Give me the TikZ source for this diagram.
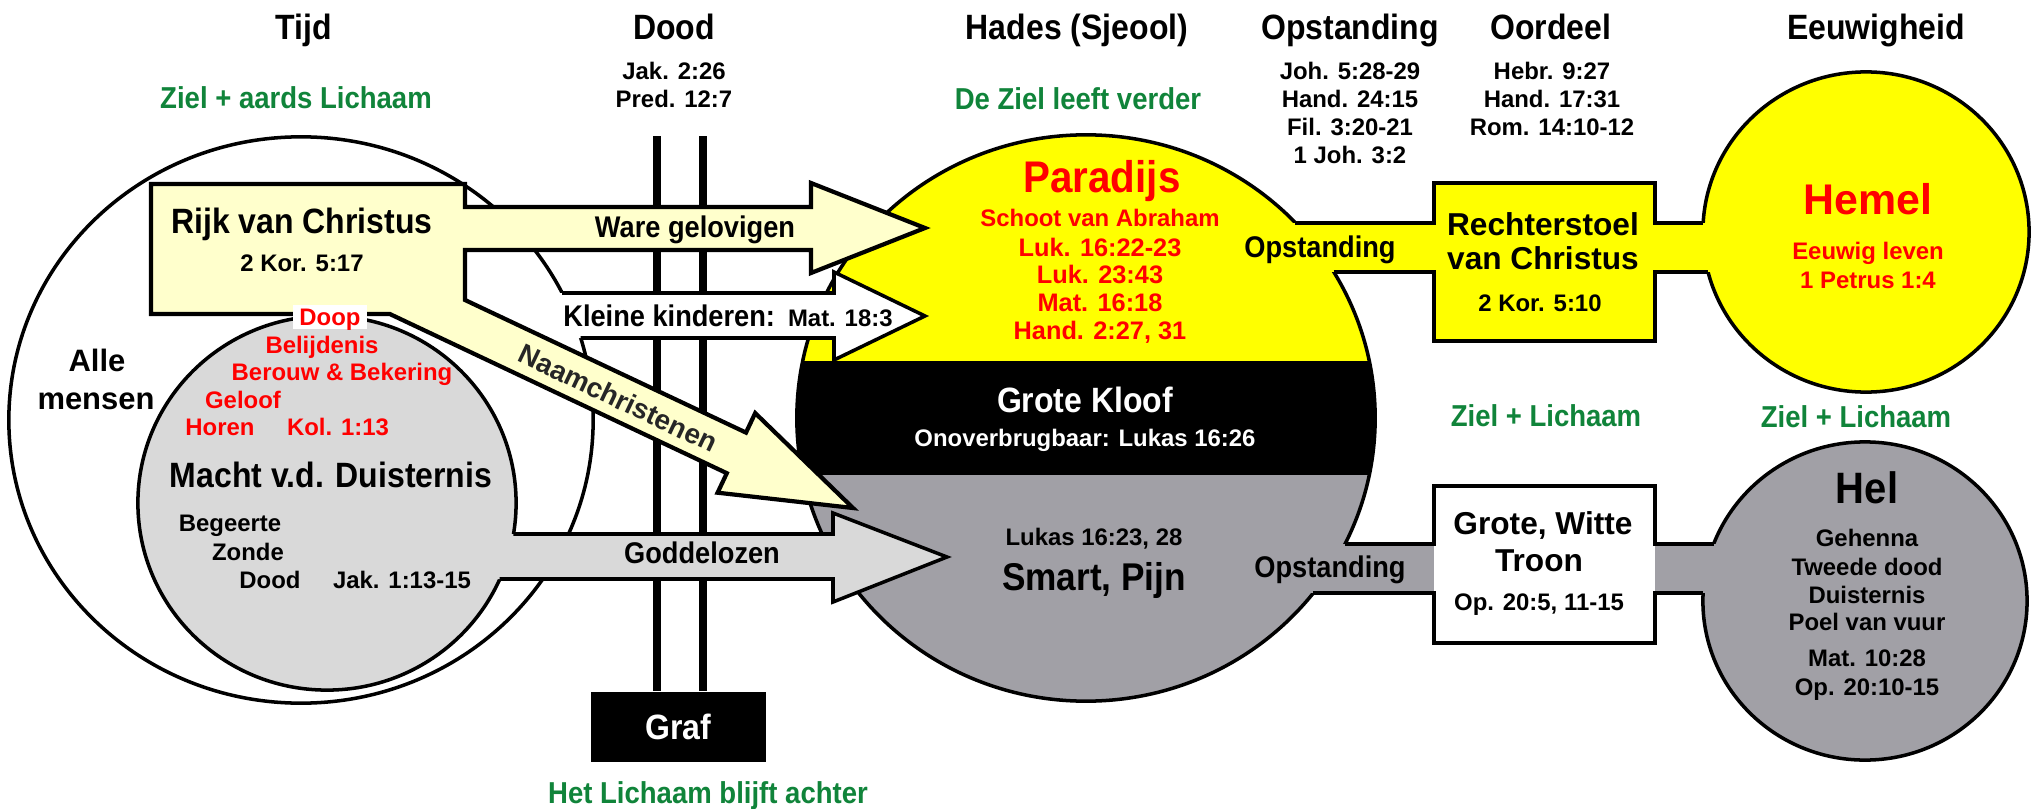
\documentclass[tikz,border=0pt]{standalone}
\usepackage{fontspec}
\setmainfont{Liberation Sans}
\newfontfamily\condf{Liberation Sans}[FakeStretch=0.91]
\newfontfamily\arialf{Liberation Sans}
\newcommand\myfs[1]{\fontsize{#1}{#1}\selectfont}
\definecolor{lyel}{RGB}{255,255,204}
\definecolor{yel}{RGB}{255,255,0}
\definecolor{lgray}{RGB}{217,217,217}
\definecolor{hgray}{RGB}{161,160,166}
\definecolor{grn}{RGB}{16,132,58}
\definecolor{rd}{RGB}{255,0,0}
\begin{document}
\begin{tikzpicture}[x=0.01cm, y=-0.01cm,
  ol/.style={line width=1pt, line join=miter},
  bl/.style={line width=1.2pt, line join=miter},
  tb/.style={inner sep=0pt, text depth=0pt},
  hd/.style={tb, font=\condf\bfseries\myfs{10}, text height=7.2pt},
  gr/.style={tb, font=\condf\bfseries\myfs{8.6}, text height=6.2pt, text=grn},
  rf/.style={tb, font=\arialf\bfseries\myfs{6.8}, text height=4.9pt},
  rr/.style={rf, text=rd},
  rp/.style={tb, font=\arialf\bfseries\myfs{7.2}, text height=5.2pt, text=rd},
  lb/.style={tb, font=\condf\bfseries\myfs{8.5}, text height=6.1pt},
  bx/.style={tb, font=\arialf\bfseries\myfs{9}, text height=6.45pt},
  am/.style={tb, font=\arialf\bfseries\myfs{8.8}, text height=6.3pt},
  big/.style={tb, font=\condf\bfseries\myfs{12.6}, text height=9.1pt},
]
\useasboundingbox (0,0) rectangle (2035,809);
\fill[white] (0,0) rectangle (2035,809);

% ---------- headings ----------
\node[hd] (hTijd) at (304,27) {Tijd};
\node[hd] (hDood) at (674,27) {Dood};
\node[hd] (hHades) at (1077,27) {Hades (Sjeool)};
\node[hd] (hOpst) at (1350,27) {Opstanding};
\node[hd] (hOord) at (1551,27) {Oordeel};
\node[hd] (hEeuw) at (1876,27) {Eeuwigheid};

\node[gr] (zielL) at (296,98) {Ziel + aards Lichaam};
\node[rf] (jak) at (674,71) {Jak. 2:26};
\node[rf] (pred) at (674,99) {Pred. 12:7};
\node[gr] (zielH) at (1078,99) {De Ziel leeft verder};
\node[rf] (o1) at (1350,71) {Joh. 5:28-29};
\node[rf] (o2) at (1350,99) {Hand. 24:15};
\node[rf] (o3) at (1350,127) {Fil. 3:20-21};
\node[rf] (o4) at (1350,155) {1 Joh. 3:2};
\node[rf] (r1) at (1552,71) {Hebr. 9:27};
\node[rf] (r2) at (1552,99) {Hand. 17:31};
\node[rf] (r3) at (1552,127) {Rom. 14:10-12};

% ---------- Dood lines and Graf ----------
\node[tb, fill=black, minimum width=1.75cm, minimum height=0.70cm,
      font=\condf\bfseries\myfs{10}, text height=7.2pt, text=white] (graf) at (678.5,727) {Graf};
\coordinate (dl1) at (657,136);
\coordinate (dl2) at (703,136);
\draw[line width=2.1pt] (dl1) -- (dl1 |- graf.north);
\draw[line width=2.1pt] (dl2) -- (dl2 |- graf.north);
\node[gr] (lich) at (708,793) {Het Lichaam blijft achter};

% ---------- left ellipses ----------
\draw[ol, fill=white] (301,420) ellipse [x radius=2.92cm, y radius=2.83cm];
\draw[ol, fill=lgray] (327,503) ellipse [x radius=1.89cm, y radius=1.87cm];

% ---------- Hades ----------
\begin{scope}
  \clip (1086,418) ellipse [x radius=2.89cm, y radius=2.83cm];
  \fill[yel] (780,120) rectangle (1390,361);
  \fill[black] (780,361) rectangle (1390,475);
  \fill[hgray] (780,475) rectangle (1390,715);
\end{scope}
\draw[ol] (1086,418) ellipse [x radius=2.89cm, y radius=2.83cm];

% ---------- Hemel / Hel ----------
\filldraw[ol, fill=yel] (1866,232) ellipse [x radius=1.63cm, y radius=1.60cm];
\filldraw[ol, fill=hgray] (1865,601) ellipse [x radius=1.62cm, y radius=1.59cm];

% ---------- upper connector + Rechterstoel ----------
\fill[yel] (1280,223) rectangle (1440,272);
\fill[yel] (1650,223) rectangle (1722,272);
\fill[yel] (1434,183) rectangle (1655,341);
\draw[bl] (1295.4,223) -- (1434,223) -- (1434,183) -- (1655,183) -- (1655,223) -- (1703.3,223);
\draw[bl] (1333.6,272) -- (1434,272) -- (1434,341) -- (1655,341) -- (1655,272) -- (1708.2,272);

% ---------- lower connector + Troon ----------
\fill[hgray] (1290,544) rectangle (1434,593);
\fill[hgray] (1655,544) rectangle (1732,593);
\fill[white] (1434,486) rectangle (1655,643);
\draw[bl] (1344.8,544) -- (1434,544) -- (1434,486) -- (1655,486) -- (1655,544) -- (1713.8,544);
\draw[bl] (1313.1,593) -- (1434,593) -- (1434,643) -- (1655,643) -- (1655,593) -- (1703.2,593);

% ---------- Kleine kinderen arrow ----------
\fill[white] (545,293) -- (834,293) -- (834,272) -- (925,316) -- (834,360) -- (834,338) -- (545,338) -- cycle;
\draw[ol] (562,293) -- (834,293) -- (834,272) -- (925,316) -- (834,360) -- (834,338) -- (580.5,338);

% ---------- Goddelozen arrow ----------
\fill[lgray] (490,534) -- (833,534) -- (833,513) -- (947,557) -- (833,602) -- (833,579) -- (490,579) -- cycle;
\draw[ol] (513.4,534) -- (833,534) -- (833,513) -- (947,557) -- (833,602) -- (833,579) -- (499.7,579);

% ---------- Rijk van Christus + Ware gelovigen + Naamchristenen ----------
\filldraw[bl, fill=lyel] (151,184) -- (465,184) -- (465,207) -- (811,207) -- (811,183) -- (925,228)
  -- (811,273) -- (811,250) -- (465,250) -- (465,300) -- (746,432.6) -- (755.2,413.1) -- (853,508)
  -- (717.6,492.7) -- (726.8,473.2) -- (389.8,314) -- (151,314) -- cycle;

% ---------- texts left ----------
\node[hd] (rijk) at (302,221) {Rijk van Christus};
\node[rf] (rijkref) at (302,263) {2 Kor. 5:17};
\node[am] (alle) at (97,360) {Alle};
\node[am] (mensen) at (96,398) {mensen};
\node[rr, fill=white, inner xsep=1.8pt, inner ysep=1pt] (doop) at (330,317) {Doop};
\node[rr] (belij) at (322,345) {Belijdenis};
\node[rr] (berouw) at (342,372) {Berouw \& Bekering};
\node[rr] (geloof) at (243,400) {Geloof};
\node[rr] (horen) at (220,427) {Horen};
\node[rr] (kol) at (338,427) {Kol. 1:13};
\node[hd] (macht) at (331,475) {Macht v.d. Duisternis};
\node[rf] (beg) at (230,523) {Begeerte};
\node[rf] (zonde) at (248,552) {Zonde};
\node[rf] (doodL) at (270,580) {Dood};
\node[rf] (jakL) at (402,580) {Jak. 1:13-15};

\node[lb] (ware) at (695,227) {Ware gelovigen};
\node[tb, text height=6.1pt] (kleine) at (728,316)
  {{\condf\bfseries\myfs{8.5}Kleine kinderen:} {\arialf\bfseries\myfs{6.8}Mat. 18:3}};
\node[tb, font=\arialf\bfseries\myfs{7.9}, text height=5.7pt,
      rotate=-25.3, text=black!85] (naam) at (618,398) {Naamchristenen};
\node[lb] (godd) at (702,553) {Goddelozen};

% ---------- Hades texts ----------
\node[big, text=rd] (parad) at (1102,176) {Paradijs};
\node[rr] (p1) at (1100,218) {Schoot van Abraham};
\node[rp] (p2) at (1100,247) {Luk. 16:22-23};
\node[rp] (p3) at (1100,274) {Luk. 23:43};
\node[rp] (p4) at (1100,302) {Mat. 16:18};
\node[rp] (p5) at (1100,330) {Hand. 2:27, 31};
\node[hd, text=white] (kloof) at (1085,400) {Grote Kloof};
\node[rf, text=white] (onov) at (1085,438) {Onoverbrugbaar: Lukas 16:26};
\node[rf] (luk) at (1094,537) {Lukas 16:23, 28};
\node[tb, font=\condf\bfseries\myfs{11}, text height=7.9pt] (smart) at (1094,577) {Smart, Pijn};

\node[lb] (opst1) at (1320,247) {Opstanding};
\node[lb] (opst2) at (1330,567) {Opstanding};

% ---------- right texts ----------
\node[bx] (recht1) at (1543,224) {Rechterstoel};
\node[bx] (recht2) at (1543,258) {van Christus};
\node[rf] (recht3) at (1540,303) {2 Kor. 5:10};
\node[tb, font=\arialf\bfseries\myfs{12.2}, text height=8.7pt, text=rd] (hemel) at (1868,199) {Hemel};
\node[rr] (eeuw) at (1868,251) {Eeuwig leven};
\node[rr] (petr) at (1868,280) {1 Petrus 1:4};
\node[gr] (zl1) at (1546,416) {Ziel + Lichaam};
\node[gr] (zl2) at (1856,417) {Ziel + Lichaam};
\node[bx] (troon1) at (1543,523) {Grote, Witte};
\node[bx] (troon2) at (1539,560) {Troon};
\node[rf] (troon3) at (1539,602) {Op. 20:5, 11-15};
\node[tb, font=\condf\bfseries\myfs{12.5}, text height=9pt] (hel) at (1867,488) {Hel};
\node[rf] (h1) at (1867,538) {Gehenna};
\node[rf] (h2) at (1867,567) {Tweede dood};
\node[rf] (h3) at (1867,595) {Duisternis};
\node[rf] (h4) at (1867,622) {Poel van vuur};
\node[rf] (h5) at (1867,658) {Mat. 10:28};
\node[rf] (h6) at (1867,687) {Op. 20:10-15};
\end{tikzpicture}
\end{document}
